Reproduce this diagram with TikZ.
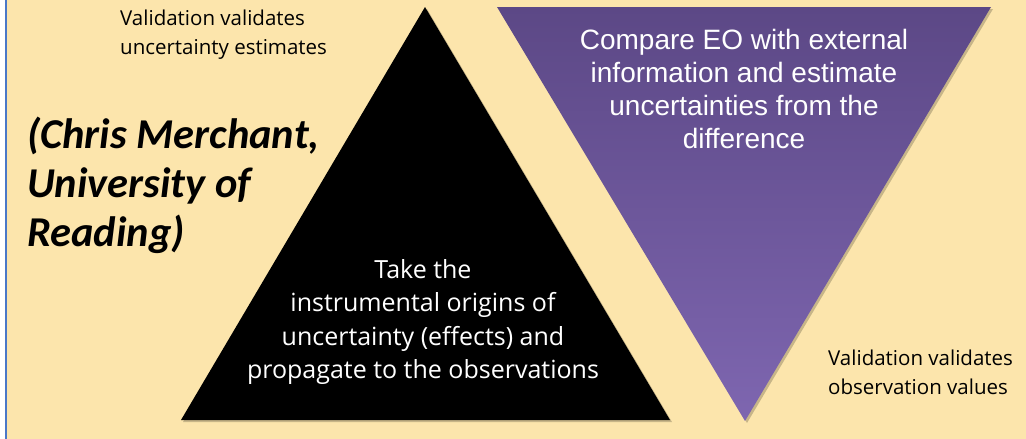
\documentclass[tikz,border=0pt]{standalone}
\usepackage{fontspec}
\setmainfont{Open Sans}
\newfontfamily\calibrifont{Carlito}
\newfontfamily\arialfont{Liberation Sans}
\usetikzlibrary{shadows,positioning}
\definecolor{paper}{HTML}{FCE5AC}
\definecolor{edgeblue}{HTML}{4A78C8}
\definecolor{purpletop}{HTML}{5C4886}
\definecolor{purplebot}{HTML}{7E66B0}
\tikzset{
  note/.style={align=left, inner sep=0pt, font=\fontsize{20.5}{28.5}\selectfont},
  intext/.style={align=center, inner sep=0pt, text=white}
}

\begin{document}
\begin{tikzpicture}[x=1pt, y=-1pt]
                \useasboundingbox (0,0) rectangle (1026,439);
                \fill[white] (0,0) rectangle (1026,439);
                \fill[paper] (7,0) rectangle (1026,439);
                \fill[edgeblue] (4.5,0) rectangle (7,439);

                % the two triangles
                \fill[black, drop shadow={shadow xshift=2pt, shadow yshift=-2pt, opacity=0.35, fill=black!60!paper}]
                    (425,7) -- (670,420) -- (181,420) -- cycle;
                \path[top color=purpletop, bottom color=purplebot, drop shadow={shadow xshift=2pt, shadow yshift=-2pt, opacity=0.35, fill=black!60!paper}]
                    (497,7) -- (991,7) -- (745,421) -- cycle;

                \draw(120,10) node[note, anchor=north west] (valtop) {Validation validates\\uncertainty estimates};
                \draw(828,350) node[note, anchor=north west] (valbot) {Validation validates\\observation values};
                \draw(27,117) node[anchor=north west, align=left, inner sep=0pt,
                    font=\calibrifont\bfseries\itshape\fontsize{42.5}{49}\selectfont] (author) {(Chris Merchant,\\University of\\Reading)};

                \draw(423,322) node[intext, font=\fontsize{25}{33.5}\selectfont] (bottomup)
                    {Take the\\instrumental origins of\\uncertainty (effects) and\\propagate to the observations};
                \draw(744,89) node[intext, font=\arialfont\fontsize{28}{33}\selectfont] (topdown)
                    {Compare EO with external\\information and estimate\\uncertainties from the\\difference};

            \end{tikzpicture}
\end{document}
